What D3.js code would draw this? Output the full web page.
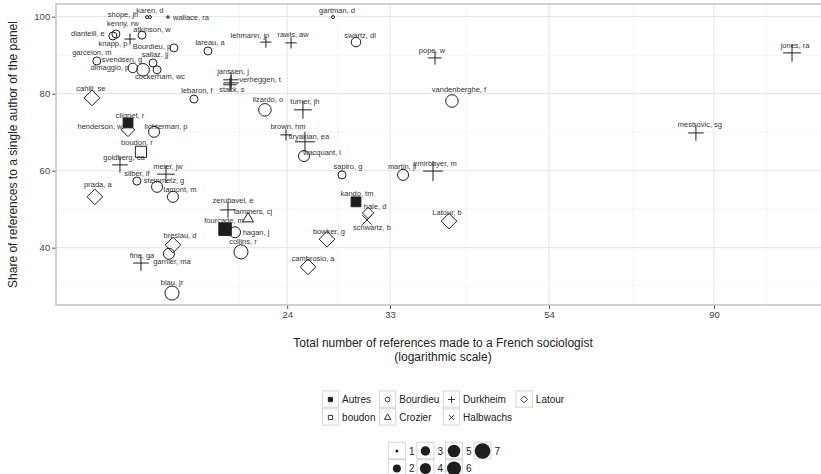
<!DOCTYPE html>
<html>
<head>
<meta charset="utf-8">
<script src="https://cdn.jsdelivr.net/npm/d3@7"></script>
<style>
  body { margin: 0; background: #fff; }
  svg { display: block; font-family: "Liberation Sans", Arial, Helvetica, sans-serif; }
</style>
</head>
<body>
<svg id="chart" width="821" height="474"></svg>
<script>
// ---- data ----
const authors = ["karen, d", "shope, jh", "kenny, rw", "dianteill, e", "atkinson, w", "knapp, p", "wallace, ra",
  "Bourdieu, p", "lareau, a", "lehmann, jn", "rawls, aw", "gartman, d", "swartz, dl", "pope, w", "jones, ra",
  "garcelon, m", "dimaggio, p", "svendsen, g", "sallaz, jj", "cockerham, wc", "janssen, j", "verheggen, t",
  "stack, s", "cahill, se", "lebaron, f", "lizardo, o", "turner, jh", "vandenberghe, f", "clignet, r",
  "henderson, w", "lichterman, p", "boudon, r", "goldberg, ca", "brown, hm", "tiryakian, ea", "wacquant, l",
  "meier, jw", "silber, if", "steinmetz, g", "lamont, m", "prada, a", "sapiro, g", "martin, jl", "emirbayer, m",
  "kando, tm", "hale, d", "schwartz, b", "Latour, b", "zerubavel, e", "lammers, cj", "fourcade, m", "hagan, j",
  "collins, r", "bowker, g", "cambrosio, a", "breslau, d", "garnier, ma", "fine, ga", "blau, jr", "mestrovic, sg"];

const groups = ["Bourdieu", "Bourdieu", "Bourdieu", "Bourdieu", "Bourdieu", "Durkheim", "Durkheim",
  "Bourdieu", "Bourdieu", "Durkheim", "Durkheim", "Bourdieu", "Bourdieu", "Durkheim", "Durkheim",
  "Bourdieu", "Bourdieu", "Bourdieu", "Bourdieu", "Bourdieu", "Durkheim", "Durkheim",
  "Durkheim", "Latour", "Bourdieu", "Bourdieu", "Durkheim", "Bourdieu", "Autres",
  "Latour", "Bourdieu", "boudon", "Durkheim", "Durkheim", "Durkheim", "Bourdieu",
  "Durkheim", "Bourdieu", "Bourdieu", "Bourdieu", "Latour", "Bourdieu", "Bourdieu", "Durkheim",
  "Autres", "Latour", "Halbwachs", "Latour", "Durkheim", "Crozier", "Autres", "Bourdieu",
  "Bourdieu", "Latour", "Latour", "Latour", "Bourdieu", "Durkheim", "Bourdieu", "Durkheim"];

const totalRefs = [15.69, 15.55, 14.12, 13.99, 15.31, 14.75, 16.59,
  16.90, 18.78, 22.47, 24.29, 27.66, 29.70, 37.93, 114.6,
  13.31, 14.88, 15.36, 15.84, 16.04, 20.17, 20.17,
  20.10, 13.11, 17.98, 22.40, 25.20, 39.98, 14.66,
  14.66, 15.89, 15.26, 14.30, 23.91, 25.36, 25.28,
  16.49, 15.07, 16.04, 16.85, 13.23, 28.44, 34.36, 37.70,
  29.70, 30.83, 30.73, 39.61, 19.98, 21.26, 19.80, 20.42,
  20.80, 27.15, 25.60, 16.85, 16.64, 15.26, 16.80, 85.1];

const singleShare = [99.9, 99.9, 95.5, 95.0, 95.2, 94.2, 99.9,
  91.9, 91.1, 93.4, 93.2, 99.9, 93.4, 89.3, 90.6,
  88.5, 86.7, 86.2, 88.0, 86.2, 83.6, 82.8,
  82.3, 78.9, 78.6, 75.8, 75.8, 78.1, 72.4,
  70.6, 70.1, 64.9, 61.5, 69.3, 67.5, 63.8,
  59.1, 57.3, 55.8, 53.2, 53.2, 58.9, 58.9, 59.9,
  51.9, 49.0, 47.2, 46.9, 49.8, 47.5, 44.8, 44.0,
  38.9, 42.2, 35.0, 40.7, 38.4, 36.0, 28.2, 69.8];

const sizeClass = [1, 1, 2, 2, 2, 2, 1,
  2, 2, 2, 2, 1, 3, 3, 5,
  2, 3, 5, 2, 2, 4, 4,
  3, 4, 2, 5, 5, 5, 4,
  3, 4, 5, 4, 2, 6, 4,
  5, 2, 4, 4, 4, 2, 4, 6,
  4, 2, 3, 4, 4, 2, 6, 4,
  6, 4, 4, 4, 4, 4, 6, 4];

const xTicks = [24, 33, 54, 90];
const xMinor = [20.7, 28.1, 41.8, 70.1, 106];
const yTicks = [40, 60, 80, 100];
const yMinor = [30, 50, 70, 90];

const shapeGroups = ["Autres", "boudon", "Bourdieu", "Crozier", "Durkheim", "Halbwachs", "Latour"];
const sizeLevels = [1, 2, 3, 4, 5, 6, 7];

// ---- layout ----
const panel = {left: 56, top: 4, right: 830, bottom: 305};
const ink = "#1e1e1e";

// where a name sits relative to its point (label repel done by hand)
const labelNudge = {
  "karen, d": [0, -7], "shope, jh": [-24, -3], "kenny, rw": [7, -11], "dianteill, e": [-25, -2],
  "atkinson, w": [10, -6], "knapp, p": [-17, 4], "wallace, ra": [23, 0], "Bourdieu, p": [-22, -1],
  "lehmann, jn": [-16, -7], "gartman, d": [4, -7], "swartz, dl": [4, -7], "pope, w": [-3, -7],
  "jones, ra": [3, -7], "garcelon, m": [-5, -8], "dimaggio, p": [-23, 0], "svendsen, g": [-21, -10],
  "cockerham, wc": [3, 7], "verheggen, t": [29, -3], "stack, s": [2, 5], "cahill, se": [-1, -9],
  "lebaron, f": [3, -9], "lizardo, o": [3, -10], "vandenberghe, f": [7, -11], "clignet, r": [2, -7],
  "henderson, w": [-28, -3], "lichterman, p": [12, -5], "boudon, r": [-4, -9], "goldberg, ca": [4, -7],
  "tiryakian, ea": [4, -5], "wacquant, l": [18, -4], "silber, if": [0, -8], "steinmetz, g": [7, -6],
  "lamont, m": [7, -7], "prada, a": [3, -12], "sapiro, g": [6, -8], "martin, jl": [-1, -8],
  "kando, tm": [1, -8], "hale, d": [7, -7], "schwartz, b": [5, 8], "Latour, b": [-2, -9],
  "zerubavel, e": [5, -9], "lammers, cj": [5, -7], "fourcade, m": [-1, -9], "hagan, j": [21, 0],
  "collins, r": [2, -10], "cambrosio, a": [5, -8], "breslau, d": [7, -9], "garnier, ma": [3, 8],
  "fine, ga": [1, -8], "blau, jr": [0, -11], "mestrovic, sg": [4, -8]
};

const svg = d3.select("#chart");
svg.append("rect").attr("width", 821).attr("height", 474).attr("fill", "#fff");

const x = d3.scaleLog().domain([11.73, 128.9]).range([panel.left, panel.right]);
const y = d3.scaleLinear().domain([25.1, 103.3]).range([panel.bottom, panel.top]);
const rad = d3.scaleLinear().domain([1, 2, 7]).range([1.5, 4, 7.8]);

// R-like point glyphs; size is the radius of the equivalent circle
const SQ = Math.sqrt(Math.PI) / 2, TRC0 = Math.sqrt(4 * Math.PI / (3 * Math.sqrt(3)));
const glyph = {
  circle: {draw(c, R) { c.moveTo(R, 0); c.arc(0, 0, R, 0, 2 * Math.PI); }},
  square: {draw(c, R) { const h = R * SQ; c.rect(-h, -h, 2 * h, 2 * h); }},
  diamond: {draw(c, R) { const h = R * Math.SQRT2; c.moveTo(0, -h); c.lineTo(h, 0); c.lineTo(0, h); c.lineTo(-h, 0); c.closePath(); }},
  plus: {draw(c, R) { const h = R * Math.SQRT2; c.moveTo(-h, 0); c.lineTo(h, 0); c.moveTo(0, -h); c.lineTo(0, h); }},
  times: {draw(c, R) { c.moveTo(-R, -R); c.lineTo(R, R); c.moveTo(-R, R); c.lineTo(R, -R); }},
  triangle: {draw(c, R) { const t = TRC0 * R, u = t * Math.sqrt(3) / 2; c.moveTo(0, -t); c.lineTo(u, t / 2); c.lineTo(-u, t / 2); c.closePath(); }}
};
const shapeOf = d3.scaleOrdinal().domain(shapeGroups)
  .range(["square", "square", "circle", "triangle", "plus", "times", "diamond"]);
const filled = g => g === "Autres";
const path = (g, R) => d3.symbol().type(glyph[shapeOf(g)]).size(R)();

// ---- grid ----
const grid = svg.append("g");
grid.selectAll(".vmin").data(xMinor).join("line")
  .attr("x1", d => x(d)).attr("x2", d => x(d)).attr("y1", panel.top).attr("y2", panel.bottom)
  .attr("stroke", "#f2f2f2").attr("stroke-width", 0.8);
grid.selectAll(".hmin").data(yMinor).join("line")
  .attr("y1", d => y(d)).attr("y2", d => y(d)).attr("x1", panel.left).attr("x2", panel.right)
  .attr("stroke", "#f2f2f2").attr("stroke-width", 0.8);
grid.selectAll(".vmaj").data(xTicks).join("line")
  .attr("x1", d => x(d)).attr("x2", d => x(d)).attr("y1", panel.top).attr("y2", panel.bottom)
  .attr("stroke", "#e3e3e3").attr("stroke-width", 1);
grid.selectAll(".hmaj").data(yTicks).join("line")
  .attr("y1", d => y(d)).attr("y2", d => y(d)).attr("x1", panel.left).attr("x2", panel.right)
  .attr("stroke", "#e3e3e3").attr("stroke-width", 1);

// ---- points ----
const pts = authors.map((a, i) => ({name: a, group: groups[i], refs: totalRefs[i], share: singleShare[i], size: sizeClass[i]}));

svg.append("g").selectAll("path").data(pts).join("path")
  .attr("transform", d => `translate(${x(d.refs)},${y(d.share)})`)
  .attr("d", d => path(d.group, rad(d.size)))
  .attr("fill", d => filled(d.group) ? ink : "none")
  .attr("stroke", ink).attr("stroke-width", 1);

// opacity just under 1 keeps the tiny labels greyscale-antialiased
svg.append("g").attr("opacity", 0.995).selectAll("text").data(pts).join("text")
  .attr("x", d => x(d.refs) + (labelNudge[d.name] || [2, -8])[0])
  .attr("y", d => y(d.share) + (labelNudge[d.name] || [2, -8])[1])
  .attr("text-anchor", "middle").attr("dominant-baseline", "central")
  .attr("font-size", 7.5).attr("fill", "#333")
  .text(d => d.name);

// ---- panel border and axes ----
svg.append("rect")
  .attr("x", panel.left).attr("y", panel.top)
  .attr("width", panel.right - panel.left).attr("height", panel.bottom - panel.top)
  .attr("fill", "none").attr("stroke", "#c2c2c2").attr("stroke-width", 1.5);

const xAxis = svg.append("g").attr("transform", `translate(0,${panel.bottom + 0.8})`)
  .call(d3.axisBottom(x).tickValues(xTicks).tickFormat(d3.format("d")).tickSize(3).tickPadding(2));
const yAxis = svg.append("g").attr("transform", `translate(${panel.left - 0.8},0)`)
  .call(d3.axisLeft(y).tickValues(yTicks).tickSize(3).tickPadding(2));
[xAxis, yAxis].forEach(a => {
  a.select(".domain").remove();
  a.selectAll(".tick line").attr("stroke", "#444");
  a.selectAll(".tick text").attr("font-size", 9.5).attr("fill", "#444")
    .attr("font-family", "'Liberation Sans', Arial, sans-serif");
});

const cx = 443;
svg.append("text").attr("x", cx).attr("y", 343).attr("text-anchor", "middle")
  .attr("dominant-baseline", "central").attr("font-size", 12).attr("fill", "#222")
  .text("Total number of references made to a French sociologist");
svg.append("text").attr("x", cx).attr("y", 357).attr("text-anchor", "middle")
  .attr("dominant-baseline", "central").attr("font-size", 12).attr("fill", "#222")
  .text("(logarithmic scale)");
svg.append("text").attr("transform", `translate(13,${(panel.top + panel.bottom) / 2}) rotate(-90)`)
  .attr("text-anchor", "middle").attr("dominant-baseline", "central")
  .attr("font-size", 12).attr("fill", "#222")
  .text("Share of references to a single author of the panel");

// ---- legends (column-major, 2 rows, centred) ----
function legend(items, rowY, keyW, keyH, gap, drawKey, center) {
  const g = svg.append("g");
  const nrow = rowY.length, ncol = Math.ceil(items.length / nrow);
  const probe = g.append("text").attr("font-size", 10);
  const widths = items.map(d => { probe.text(d); return probe.node().getComputedTextLength(); });
  probe.remove();
  const colW = d3.range(ncol).map(c => keyW + 3 + d3.max(widths.slice(c * nrow, c * nrow + nrow)));
  const total = d3.sum(colW) + gap * (ncol - 1);
  let x0 = center - total / 2;
  d3.range(ncol).forEach(c => {
    items.slice(c * nrow, c * nrow + nrow).forEach((d, k) => {
      const ky = rowY[k];
      g.append("rect").attr("x", x0 + 0.5).attr("y", ky - keyH / 2)
        .attr("width", keyW - 1).attr("height", keyH - 1)
        .attr("fill", "#fff").attr("stroke", "#d4d4d4").attr("stroke-width", 1);
      drawKey(g, d, x0 + keyW / 2, ky);
      g.append("text").attr("x", x0 + keyW + 3).attr("y", ky)
        .attr("dominant-baseline", "central").attr("font-size", 10).attr("fill", "#222").text(d);
    });
    x0 += colW[c] + gap;
  });
}

legend(shapeGroups, [399.5, 417.5], 17.3, 17.3, 3.5, (g, d, kx, ky) => {
  g.append("path").attr("transform", `translate(${kx},${ky})`)
    .attr("d", path(d, 2.4))
    .attr("fill", filled(d) ? ink : "none").attr("stroke", ink).attr("stroke-width", 0.9);
}, 443);

legend(sizeLevels.map(String), [451, 468.5], 18, 17.5, 2, (g, d, kx, ky) => {
  g.append("circle").attr("cx", kx).attr("cy", ky).attr("r", rad(+d)).attr("fill", ink);
}, 444);
</script>
</body>
</html>
